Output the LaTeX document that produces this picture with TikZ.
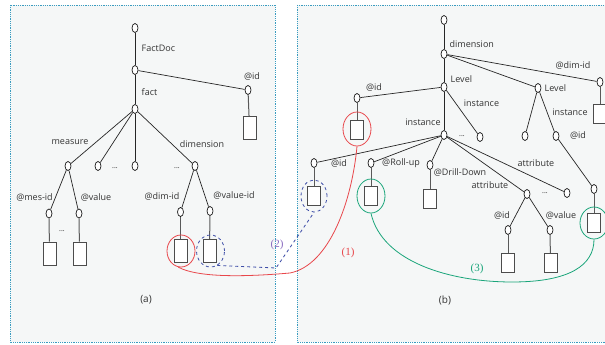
\documentclass[tikz,border=0pt]{standalone}
\usepackage{fontspec}
\setmainfont{Open Sans}
\newfontfamily\serifnum{Liberation Serif}
\usetikzlibrary{shapes.geometric}
\definecolor{panelbg}{HTML}{F5F7F7}
\definecolor{panelbd}{HTML}{3A9CC0}
\definecolor{redc}{HTML}{E8474B}
\definecolor{greenc}{HTML}{1AA57A}
\definecolor{bluec}{HTML}{3F4FA8}
\definecolor{purplec}{HTML}{8A6CC0}
\tikzset{
  tn/.style={ellipse, draw=black!90, line width=0.7pt, fill=white, minimum width=6pt, minimum height=9pt, inner sep=0pt},
  leafa/.style={rectangle, draw=black!70, line width=0.9pt, fill=white, minimum width=13pt, minimum height=23pt, inner sep=0pt},
  leafb/.style={rectangle, draw=black!70, line width=0.9pt, fill=white, minimum width=13pt, minimum height=19pt, inner sep=0pt},
  lbl/.style={font=\fontsize{9}{10}\selectfont, text=black!80, inner sep=0.5pt},
  dots/.style={font=\fontsize{7}{8}\selectfont, text=black!90, inner sep=0pt},
  edg/.style={draw=black!85, line width=0.7pt},
  ledg/.style={draw=black!65, line width=1pt},
  panel/.style={draw=panelbd, densely dotted, line width=0.8pt, fill=panelbg},
  ring/.style={ellipse, line width=0.8pt, inner sep=0pt},
  numlbl/.style={font=\serifnum\fontsize{11}{12}\selectfont, inner sep=0pt},
}
\begin{document}
\begin{tikzpicture}[x=1pt,y=-1pt]
\useasboundingbox (0,0) rectangle (605,345);
\clip (0,0) rectangle (605,345);
\fill[white] (0,0) rectangle (605,345);
\draw[panel] (10,5) rectangle (275,342);
\draw[panel] (297,5) rectangle (612,342);

% ---------- panel (a) ----------
\node[tn] (a0) at (135,28) {};
\node[tn] (a1) at (135,70) {};
\node[tn] (aid) at (248,90) {};
\node[leafa] (aidr) at (249.5,128) {};
\node[tn] (a2) at (135,109) {};
\node[tn] (am) at (68,166) {};
\node[tn] (ad1) at (98,166) {};
\node[tn] (ad2) at (135,166) {};
\node[tn] (ad) at (195,166) {};
\node[tn] (amid) at (49,213.5) {};
\node[tn] (aval) at (79,213.5) {};
\node[leafa] (amidr) at (49.5,253.5) {};
\node[leafa] (avalr) at (79.5,253.5) {};
\node[tn] (adid) at (180.5,212) {};
\node[tn] (avid) at (210,211) {};
\node[leafa] (adidr) at (180.5,251) {};
\node[leafa] (avidr) at (209.5,251) {};

\draw[edg] (a0) -- (a1);
\draw[edg] (a1) -- (aid);
\draw[edg] (a1) -- (a2);
\draw[edg] (a2) -- (am);
\draw[edg] (a2) -- (ad1);
\draw[edg] (a2) -- (ad2);
\draw[edg] (a2) -- (ad);
\draw[edg] (am) -- (amid);
\draw[edg] (am) -- (aval);
\draw[edg] (ad) -- (adid);
\draw[edg] (ad) -- (avid);
\draw[ledg] (aid) -- (aidr);
\draw[ledg] (amid) -- (amidr);
\draw[ledg] (aval) -- (avalr);
\draw[ledg] (adid) -- (adidr);
\draw[ledg] (avid) -- (avidr);

\node[lbl, anchor=west] (lFactDoc) at (141,48) {FactDoc};
\node[lbl] (laid) at (252,76) {@id};
\node[lbl, anchor=west] (lfact) at (141,92) {fact};
\node[lbl] (lmeasure) at (70,142) {measure};
\node[lbl] (ldimension) at (202,144) {dimension};
\node[dots] (ldots1) at (115,168) {...};
\node[dots] (ldots2) at (177,168) {...};
\node[lbl] (lmesid) at (34.5,197) {@mes-id};
\node[lbl] (lvalue) at (96,197) {@value};
\node[dots] (ldots3) at (62,231) {...};
\node[lbl] (ldimid) at (162,196) {@dim-id};
\node[lbl] (lvalueid) at (234,195) {@value-id};
\node[lbl, font=\fontsize{10}{11}\selectfont] (la) at (146,300) {(a)};

\node[ring, draw=redc, minimum width=28pt, minimum height=32pt] (rc1) at (181,251) {};
\node[ring, draw=bluec, dashed, minimum width=28pt, minimum height=32pt] (bc1) at (210.5,251) {};

% ---------- panel (b) ----------
\node[tn] (b0) at (444,20) {};
\node[tn] (b1) at (444,54) {};
\node[tn] (bdid) at (600,82) {};
\node[leafb] (bdidr) at (600,114) {};
\node[tn] (bL1) at (444,87) {};
\node[tn] (bL2) at (538,88) {};
\node[tn] (bid) at (357,98) {};
\node[leafb] (bidr) at (357,129.5) {};
\node[tn] (binst1) at (480,137) {};
\node[tn] (bI) at (444,135) {};
\node[tn] (bL2a) at (525,136) {};
\node[tn] (bL2b) at (556,136) {};
\node[tn] (bL2bc) at (594,189) {};
\node[leafb] (bL2bcr) at (594,223) {};
\node[tn] (biid) at (314,163) {};
\node[tn] (broll) at (371,163) {};
\node[tn] (bdrill) at (430,165) {};
\node[tn] (battr) at (527,194) {};
\node[tn] (battr2) at (567,193) {};
\node[leafb] (biidr) at (314,196) {};
\node[leafb] (brollr) at (371,196) {};
\node[leafb] (bdrillr) at (430,198.5) {};
\node[tn] (baid) at (508,230) {};
\node[tn] (baval) at (550,230) {};
\node[leafb] (baidr) at (508,263) {};
\node[leafb] (bavalr) at (550.5,263) {};

\draw[edg] (b0) -- (b1);
\draw[edg] (b1) -- (bdid);
\draw[edg] (b1) -- (bL1);
\draw[edg] (b1) -- (bL2);
\draw[edg] (bL1) -- (bid);
\draw[edg] (bL1) -- (binst1);
\draw[edg] (bL1) -- (bI);
\draw[edg] (bL2) -- (bL2a);
\draw[edg] (bL2) -- (bL2b);
\draw[edg] (bL2b) -- (bL2bc);
\draw[edg] (bI) -- (biid);
\draw[edg] (bI) -- (broll);
\draw[edg] (bI) -- (bdrill);
\draw[edg] (bI) -- (battr);
\draw[edg] (bI) -- (battr2);
\draw[edg] (battr) -- (baid);
\draw[edg] (battr) -- (baval);
\draw[ledg] (bdid) -- (bdidr);
\draw[ledg] (bid) -- (bidr);
\draw[ledg] (bL2bc) -- (bL2bcr);
\draw[ledg] (biid) -- (biidr);
\draw[ledg] (broll) -- (brollr);
\draw[ledg] (bdrill) -- (bdrillr);
\draw[ledg] (baid) -- (baidr);
\draw[ledg] (baval) -- (bavalr);

\node[lbl, anchor=west] (lbdim) at (449,44) {dimension};
\node[lbl] (lbdimid) at (573,65) {@dim-id};
\node[lbl, anchor=west] (lbL1) at (450,79) {Level};
\node[lbl, anchor=west] (lbL2) at (544,88) {Level};
\node[lbl] (lbid) at (374,87) {@id};
\node[lbl] (lbinst1) at (481.5,103) {instance};
\node[lbl] (lbinst2) at (423,122) {instance};
\node[dots] (lbdots1) at (462,136) {...};
\node[lbl] (lbinst3) at (570,112) {instance};
\node[lbl] (lbid2) at (578,135) {@id};
\node[lbl] (lbid3) at (339,163) {@id};
\node[lbl] (lbroll) at (401,163) {@Roll-up};
\node[lbl] (lbdrill) at (460,172) {@Drill-Down};
\node[lbl] (lbattr1) at (536,163) {attribute};
\node[lbl] (lbattr2) at (490,185) {attribute};
\node[dots] (lbdots2) at (545,193) {...};
\node[lbl] (lbid4) at (502,215) {@id};
\node[lbl] (lbvalue) at (561,215) {@value};
\node[lbl, font=\fontsize{10}{11}\selectfont] (lb) at (445,300) {(b)};

\node[ring, draw=redc, minimum width=28pt, minimum height=34pt] (rcb) at (357,129) {};
\node[ring, draw=bluec, dashed, minimum width=26pt, minimum height=32pt] (bcb) at (314,196) {};
\node[ring, draw=greenc, minimum width=28pt, minimum height=34pt] (gc1) at (371,196) {};
\node[ring, draw=greenc, minimum width=28pt, minimum height=32pt] (gc2) at (594,223) {};

% ---------- connectors ----------
\coordinate (k1) at (290,273);
\coordinate (k2) at (276,268);
\coordinate (k3) at (512,282);
\draw[redc, line width=0.8pt] (rc1.260) .. controls (200,279) and (255,276) .. (k1)
  .. controls (330,265) and (352,200) .. (rcb.south);
\draw[bluec, dashed, line width=0.8pt] (bc1.-65) -- (k2) -- (bcb.south);
\draw[greenc, line width=0.8pt] (gc1.south) .. controls (382,262) and (450,282) .. (k3)
  .. controls (570,282) and (594,265) .. (gc2.south);

\node[numlbl, text=redc] (n1) at (348,253) {(1)};
\node[numlbl, text=purplec] (n2) at (277,245) {(2)};
\node[numlbl, text=greenc] (n3) at (477,269) {(3)};
\end{tikzpicture}
\end{document}
